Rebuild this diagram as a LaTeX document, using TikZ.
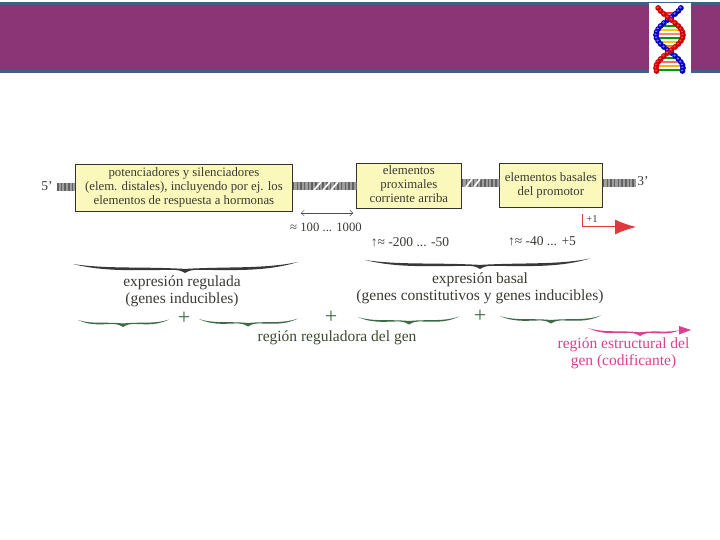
\documentclass[tikz,border=0pt]{standalone}
\usepackage{fontspec}
\setmainfont{Liberation Serif}
\usetikzlibrary{arrows.meta}
\definecolor{banner}{HTML}{8B3476}
\definecolor{bannerline}{HTML}{3F5F86}
\definecolor{boxfill}{HTML}{FBF8BC}
\definecolor{txt}{HTML}{3A3A34}
\definecolor{greentxt}{HTML}{3C4A2C}
\definecolor{braceg}{HTML}{3F6A45}
\definecolor{pinkc}{HTML}{D9408F}
\definecolor{redc}{HTML}{E0383C}
\tikzset{
  gene/.style={draw=black!80,line width=0.8pt,fill=boxfill,align=center,text=txt,font=\fontsize{12.8}{14}\selectfont,inner sep=0pt,anchor=north west},
  lbl/.style={text=txt,font=\fontsize{15.5}{17}\selectfont,align=center,inner sep=0pt},
  small/.style={text=txt,font=\fontsize{13.5}{15}\selectfont,inner sep=0pt},
  plussign/.style={text=braceg,font=\fontsize{22}{22}\selectfont,inner sep=0pt},
  bargray/.style={line width=7.5pt,draw=black!38},
  barmott/.style={line width=7.5pt,draw=black!62,dash pattern=on 1.5pt off 2.2pt},
  blackbrace/.style={fill=black!78,draw=none},
  greenbrace/.style={fill=braceg,draw=none},
  pinkbrace/.style={fill=pinkc,draw=none},
}
% style, x1,y1, xm,ym (tip), x2,y2, thickness
\newcommand{\brc}[8]{%
 \path[#1] (#2,#3)
  .. controls ({#2+0.3*(#4-#2)},{#3+0.95*(#5-#3)}) and ({#4-0.4*(#4-#2)},{#5-3.4}) .. ({#4-9},{#5-3})
  .. controls ({#4-4},{#5-2.6}) and ({#4-2},{#5-1}) .. (#4,#5)
  .. controls ({#4+2},{#5-1}) and ({#4+4},{#5-2.6}) .. ({#4+9},{#5-3})
  .. controls ({#4+0.4*(#6-#4)},{#5-3.4}) and ({#6-0.3*(#6-#4)},{#7+0.95*(#5-#7)}) .. (#6,#7)
  .. controls ({#6-0.3*(#6-#4)},{#7+0.95*(#5-#7)-#8}) and ({#4+0.4*(#6-#4)},{#5-3.2-#8}) .. ({#4},{#5-2.4-0.5*#8})
  .. controls ({#4-0.4*(#4-#2)},{#5-3.2-#8}) and ({#2+0.3*(#4-#2)},{#3+0.95*(#5-#3)-#8}) .. (#2,#3) -- cycle;}
\begin{document}
\begin{tikzpicture}[x=1pt,y=-1pt]
\useasboundingbox (0,0) rectangle (720,540);
\fill[white] (0,0) rectangle (720,540);
% banner
\draw[fill=banner,draw=bannerline,line width=3pt] (-2,3.5) rectangle (722,72);
\fill[white] (649,3) rectangle (691,76);
% helix
\foreach \y/\c in {13/red!80,17/orange,26/green!60!black,30/yellow!80!red,34/red!50,38/green!60!black,42/yellow!80!red,46/orange,58/green!60!black,62/red!60,66/yellow!70!red,70/green!60!black}{
  \draw[\c,line width=1.4pt] ({669.5+13.5*cos((\y-35)*180/33)},\y) -- ({669.5-13.5*cos((\y-35)*180/33)},\y);
}
\foreach \y in {8,11,...,72}{
  \fill[blue!75!black] ({669.5-13.5*cos((\y-35)*180/33)},\y) circle (2.9);
  \fill[blue!55] ({669.5-13.5*cos((\y-35)*180/33)-0.5},{\y-0.5}) circle (1.2);
}
\foreach \y in {8,11,...,72}{
  \fill[red!80!black] ({669.5+13.5*cos((\y-35)*180/33)},\y) circle (2.9);
  \fill[red!75] ({669.5+13.5*cos((\y-35)*180/33)-0.5},{\y-0.5}) circle (1.2);
}
% gene bar end points
\coordinate (b5) at (57,187);
\coordinate (b3) at (636,183);
% boxes
\node[gene,minimum width=217pt,minimum height=47pt] (distal) at (75,164) {potenciadores y silenciadores\\(elem. distales), incluyendo por ej. los\\elementos de respuesta a hormonas};
\node[gene,minimum width=105pt,minimum height=45pt] (prox) at (356,163) {elementos\\proximales\\corriente arriba\\[-10pt]\mbox{}};
\node[gene,minimum width=103pt,minimum height=44pt] (basal) at (499,163) {elementos basales\\del promotor};
% bar segments
\foreach \s in {bargray,barmott}{
 \path[\s] (b5) -- (distal.west |- b5);
 \path[\s] (distal.east |- 0,186) -- (prox.west |- 0,186);
 \path[\s] (prox.east |- 0,183) -- (basal.west |- 0,183);
 \path[\s] (basal.east |- b3) -- (b3);
}
\path[draw=white,line width=1.6pt] (314,190) -- (321,182) (323,190) -- (330,182) (331,190) -- (338,182) (466,187) -- (472,179) (474,187) -- (480,179);
\node[small] (five) at (47,186) {5’};
\node[small] (three) at (643,181) {3’};
% distance
\coordinate (dl) at (301,213);
\coordinate (dr) at (353,213);
\draw[{Straight Barb[length=3pt]}-{Straight Barb[length=3pt]},black!70,line width=0.4pt] (dl) -- (dr);
\node[small,font=\fontsize{12.7}{14}\selectfont] (d1) at (326,227) {≈ 100 ... 1000};
\node[small] (d2) at (410,242) {↑≈ -200 ... -50};
\node[small] (d3) at (542,241) {↑≈ -40 ... +5};
% +1
\coordinate (tss) at (582,214.5);
\coordinate (tssc) at (582,227);
\coordinate (tsse) at (636,227);
\draw[redc,line width=1pt] (tss) -- (tssc) -- (615,227);
\draw[-{Latex[length=21pt,width=15pt]},redc,line width=1pt,shorten <=33pt] (tssc) -- (tsse);
\node[small,font=\fontsize{10.5}{11}\selectfont] (plus1) at (592,219) {+1};
% braces
\brc{blackbrace}{73}{264}{185}{273}{298}{262}{3.4}
\brc{blackbrace}{365}{260}{480}{269}{590}{258.5}{3.4}
\brc{greenbrace}{78}{320}{123}{327}{169}{319.5}{2.2}
\brc{greenbrace}{199}{319}{248}{326.5}{298}{318.5}{2.2}
\brc{greenbrace}{358}{317}{409}{324.5}{459}{316.5}{2.2}
\brc{greenbrace}{500}{316}{551}{323.5}{601}{315.5}{2.2}
\brc{pinkbrace}{588}{328}{640}{336}{680}{330}{2.6}
\fill[pinkc] (679,326) -- (691,330) -- (679,334.5) -- cycle;
% labels
\node[lbl] (l1) at (182,291.5) {expresión regulada\\(genes inducibles)};
\node[lbl] (l2) at (480,288.5) {expresión basal\\(genes constitutivos y genes inducibles)};
\node[plussign] (p1) at (184,318) {+};
\node[plussign] (p2) at (331,317) {+};
\node[plussign] (p3) at (480,316) {+};
\node[lbl,text=greentxt] (l3) at (337,338) {región reguladora del gen};
\node[lbl,text=pinkc] (l4) at (623.5,353.5) {región estructural del\\gen (codificante)};
\end{tikzpicture}
\end{document}
